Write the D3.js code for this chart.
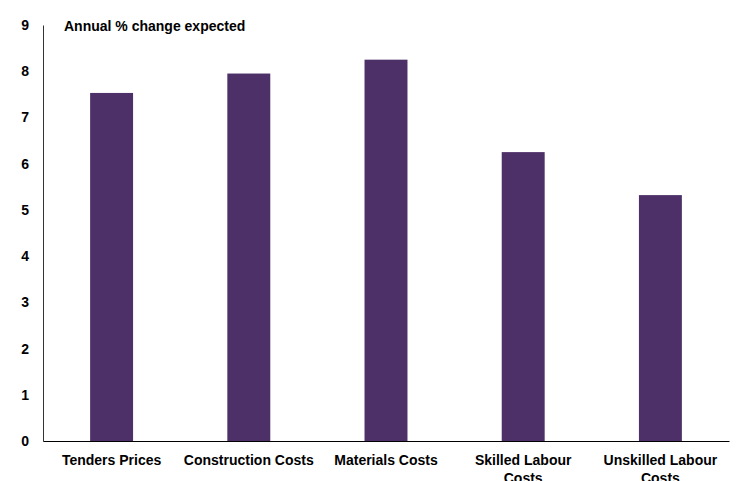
<!DOCTYPE html>
<html>
<head>
<meta charset="utf-8">
<script src="https://cdn.jsdelivr.net/npm/d3@7"></script>
<style>
  html, body { margin: 0; padding: 0; background: #fff; }
  svg text { font-family: "Liberation Sans", Arial, sans-serif; font-weight: bold; fill: #000; }
</style>
</head>
<body>
<svg id="chart" width="740" height="481"></svg>
<script>
// Expected annual % change by cost category
const categories = ["Tenders Prices", "Construction Costs", "Materials Costs", "Skilled Labour Costs", "Unskilled Labour Costs"];
const values = [7.53, 7.95, 8.25, 6.25, 5.32];
const yTicks = [0, 1, 2, 3, 4, 5, 6, 7, 8, 9];
const yTitle = "Annual % change expected";

const svg = d3.select("#chart");
const margin = { left: 43, right: 11, top: 25, bottom: 40 };
const width = 740, height = 481;
const fontSize = 14;

const x = d3.scaleBand()
  .domain(categories)
  .range([margin.left, width - margin.right])
  .paddingInner(0.687)
  .paddingOuter(0.3435);

const y = d3.scaleLinear()
  .domain([0, 9])
  .range([height - margin.bottom, margin.top]);

// bars
svg.append("g")
  .selectAll("rect")
  .data(categories)
  .join("rect")
  .attr("x", d => x(d))
  .attr("width", x.bandwidth())
  .attr("y", (d, i) => y(values[i]))
  .attr("height", (d, i) => y(0) - y(values[i]))
  .attr("fill", "#4d3068");

// y axis
const yAxis = svg.append("g")
  .attr("transform", `translate(${margin.left},0)`)
  .call(d3.axisLeft(y).tickValues(yTicks).tickSize(0).tickPadding(14));
yAxis.select(".domain").attr("stroke", "#333").attr("stroke-width", 1);
yAxis.selectAll("text").attr("font-size", fontSize).style("font-weight", "bold");

// x axis
const xAxis = svg.append("g")
  .attr("transform", `translate(0,${y(0)})`)
  .call(d3.axisBottom(x).tickSize(0).tickPadding(14));
xAxis.select(".domain").attr("stroke", "#000").attr("stroke-width", 1.2);
xAxis.selectAll("text")
  .attr("font-size", fontSize)
  .style("font-weight", "bold")
  .each(function(d) {
    // wrap the two longer labels onto a second line
    const t = d3.select(this);
    if (d.startsWith("Skilled") || d.startsWith("Unskilled")) {
      const words = d.split(" ");
      const first = words.slice(0, -1).join(" ");
      const last = words[words.length - 1];
      t.text(null);
      t.append("tspan").attr("x", 0).attr("dy", "0.71em").text(first);
      t.append("tspan").attr("x", 0).attr("dy", "1.3em").text(last);
      t.attr("dy", null);
    }
  });

// y title
svg.append("text")
  .attr("x", 64)
  .attr("y", 31)
  .attr("font-size", fontSize)
  .text(yTitle);
</script>
</body>
</html>
